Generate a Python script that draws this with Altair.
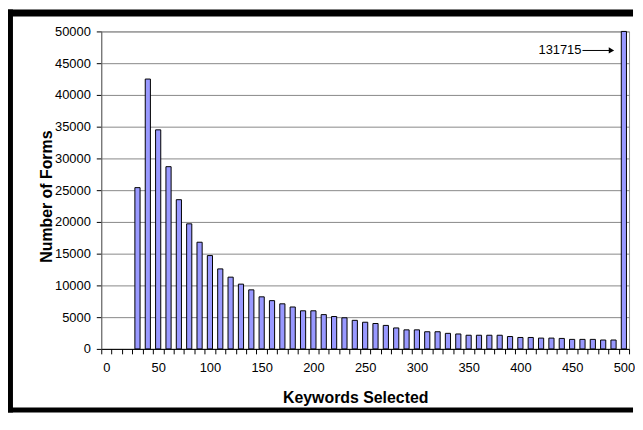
import altair as alt
import pandas as pd

# ---- data ----
keywords = [30, 40, 50, 60, 70, 80, 90, 100, 110, 120, 130, 140, 150, 160, 170,
            180, 190, 200, 210, 220, 230, 240, 250, 260, 270, 280, 290, 300, 310,
            320, 330, 340, 350, 360, 370, 380, 390, 400, 410, 420, 430, 440, 450,
            460, 470, 480, 490, 500]
forms = [25400, 42500, 34500, 28700, 23500, 19700, 16800, 14700, 12600, 11300,
         10200, 9300, 8200, 7600, 7100, 6600, 6000, 6000, 5400, 5100, 4900, 4500,
         4200, 4000, 3700, 3300, 3000, 3000, 2700, 2700, 2450, 2350, 2150, 2150,
         2150, 2150, 1950, 1800, 1800, 1700, 1700, 1650, 1500, 1500, 1500, 1400,
         1400, 131715]
axis_categories = [0, 10, 20, 30, 40, 50, 60, 70, 80, 90, 100, 110, 120, 130, 140,
                   150, 160, 170, 180, 190, 200, 210, 220, 230, 240, 250, 260, 270,
                   280, 290, 300, 310, 320, 330, 340, 350, 360, 370, 380, 390, 400,
                   410, 420, 430, 440, 450, 460, 470, 480, 490, 500]
y_ticks = [0, 5000, 10000, 15000, 20000, 25000, 30000, 35000, 40000, 45000, 50000]
annot_text = ["131715"]
annot_text_x = [459]
annot_arrow_x1 = [460]
annot_arrow_x2 = [486]
annot_head_x = [488]
annot_y = [47000]

FONT = "Liberation Sans"

bars_df = pd.DataFrame({"keywords": keywords, "forms": forms})
annot_df = pd.DataFrame({"label": annot_text, "tx": annot_text_x, "x1": annot_arrow_x1,
                         "x2": annot_arrow_x2, "hx": annot_head_x, "forms": annot_y})

y_enc = alt.Y(
    "forms:Q",
    scale=alt.Scale(domain=[0, 50000], clamp=True, nice=False),
    axis=alt.Axis(
        values=y_ticks, format="d", title="Number of Forms",
        grid=True, gridColor="#888888", gridWidth=1,
        tickSize=5, tickColor="black", domainColor="#666666",
        labelFont=FONT, labelFontSize=13, labelColor="black", labelPadding=6,
        titleFont=FONT, titleFontSize=16, titleFontWeight="bold", titleColor="black",
        titleX=-55, titleY=166, titleBaseline="middle", titleAlign="center",
    ),
)

bars = alt.Chart(bars_df).mark_bar(
    fill="#9999ff", stroke="black", strokeWidth=1, width=alt.RelativeBandSize(0.5)
).encode(
    x=alt.X(
        "keywords:O",
        scale=alt.Scale(domain=axis_categories, paddingInner=0, paddingOuter=0),
        axis=alt.Axis(
            title="Keywords Selected", labelAngle=0,
            labelExpr="datum.value % 50 == 0 ? datum.label : ''",
            labelOverlap=False, tickBand="extent", tickSize=5, tickColor="black",
            domainColor="black", grid=False,
            labelFont=FONT, labelFontSize=13, labelColor="black", labelPadding=8,
            titleFont=FONT, titleFontSize=16, titleFontWeight="bold", titleColor="black",
            titleX=256, titleY=49, titleBaseline="middle", titleAlign="center",
        ),
    ),
    y=y_enc,
)

lin_x = alt.Scale(domain=[-5, 505], nice=False, zero=False)

text = alt.Chart(annot_df).mark_text(
    align="right", baseline="middle", font=FONT, fontSize=13, color="black"
).encode(
    x=alt.X("tx:Q", scale=lin_x, axis=None),
    y=y_enc,
    text="label:N",
)

arrow = alt.Chart(annot_df).mark_rule(color="black", strokeWidth=1).encode(
    x=alt.X("x1:Q", scale=lin_x, axis=None),
    x2="x2:Q",
    y=y_enc,
)

head = alt.Chart(annot_df).mark_point(
    shape="triangle-right", filled=True, size=40, color="black", opacity=1
).encode(
    x=alt.X("hx:Q", scale=lin_x, axis=None),
    y=y_enc,
)

# decorative outer frame (left, top, bottom edges) as filled black strips
frame_df = pd.DataFrame({"a": [0]})
frame_top = alt.Chart(frame_df).mark_rect(color="black", strokeWidth=0).encode(
    x=alt.value(-94), x2=alt.value(536), y=alt.value(-22), y2=alt.value(-15)
)
frame_left = alt.Chart(frame_df).mark_rect(color="black", strokeWidth=0).encode(
    x=alt.value(-94), x2=alt.value(-89), y=alt.value(-22), y2=alt.value(384)
)
frame_bottom = alt.Chart(frame_df).mark_rect(color="black", strokeWidth=0).encode(
    x=alt.value(-94), x2=alt.value(536), y=alt.value(379), y2=alt.value(384)
)

chart = alt.layer(bars, text, arrow, head, frame_top, frame_left, frame_bottom).resolve_scale(
    x="independent"
).properties(
    width=532, height=320,
    autosize=alt.AutoSizeParams(type="none"),
    padding={"left": 94, "top": 22, "right": 6, "bottom": 64},
    background="white",
).configure_view(stroke="#999999")

chart.save("out.html", embed_options={"renderer": "svg", "actions": False})
